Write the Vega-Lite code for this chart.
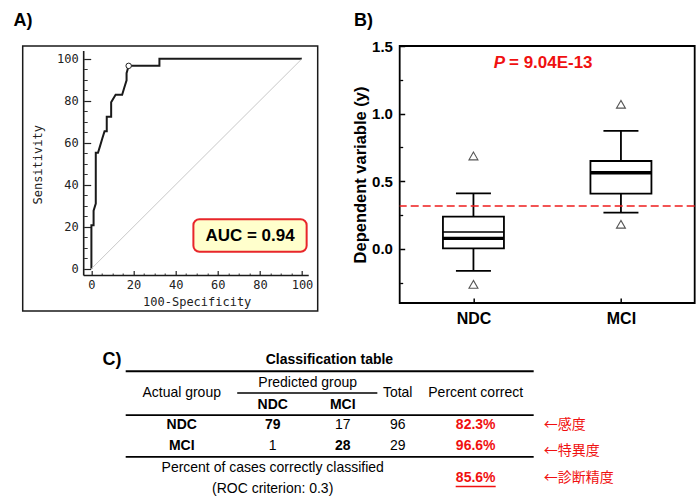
{
  "$schema": "https://vega.github.io/schema/vega-lite/v6.json",
  "background": "white",
  "padding": {"left": 12.7, "top": 11, "right": 0, "bottom": 0},
  "config": {
    "font": "Liberation Sans",
    "view": {"stroke": null},
    "axis": {"grid": false, "labelFont": "Liberation Sans", "titleFont": "Liberation Sans", "labelColor": "#000", "titleColor": "#000", "tickColor": "#222"},
    "text": {"font": "Liberation Sans"}
  },
  "datasets": {
    "roc": [
      {"i": 0, "fpr": 0, "sens": 0},
      {"i": 1, "fpr": 0, "sens": 20.7},
      {"i": 2, "fpr": 1.04, "sens": 20.7},
      {"i": 3, "fpr": 1.04, "sens": 27.6},
      {"i": 4, "fpr": 2.08, "sens": 31.0},
      {"i": 5, "fpr": 2.08, "sens": 55.2},
      {"i": 6, "fpr": 3.13, "sens": 55.2},
      {"i": 7, "fpr": 4.17, "sens": 58.6},
      {"i": 8, "fpr": 5.21, "sens": 62.1},
      {"i": 9, "fpr": 6.25, "sens": 65.5},
      {"i": 10, "fpr": 7.29, "sens": 65.5},
      {"i": 11, "fpr": 7.29, "sens": 72.4},
      {"i": 12, "fpr": 9.38, "sens": 72.4},
      {"i": 13, "fpr": 9.38, "sens": 79.3},
      {"i": 14, "fpr": 11.5, "sens": 82.8},
      {"i": 15, "fpr": 14.6, "sens": 82.8},
      {"i": 16, "fpr": 15.6, "sens": 86.2},
      {"i": 17, "fpr": 16.7, "sens": 89.7},
      {"i": 18, "fpr": 16.7, "sens": 93.1},
      {"i": 19, "fpr": 17.7, "sens": 96.6},
      {"i": 20, "fpr": 32.3, "sens": 96.6},
      {"i": 21, "fpr": 32.3, "sens": 100},
      {"i": 22, "fpr": 100, "sens": 100}
    ],
    "cutoff": [{"fpr": 17.7, "sens": 96.6}],
    "box": [
      {"group": "NDC", "lower": -0.163, "q1": 0.004, "median": 0.078, "mean": 0.125, "q3": 0.238, "upper": 0.411},
      {"group": "MCI", "lower": 0.268, "q1": 0.408, "median": 0.563, "mean": 0.563, "q3": 0.65, "upper": 0.872}
    ],
    "outliers": [
      {"group": "NDC", "value": 0.687},
      {"group": "NDC", "value": -0.262},
      {"group": "MCI", "value": 1.069},
      {"group": "MCI", "value": 0.182}
    ],
    "cells": [
      {"r": 0, "c": -2, "text": "C)", "role": "panel"},
      {"r": 0, "c": 1.81, "text": "Classification table", "role": "title"},
      {"r": 1, "c": 1.5, "text": "Predicted group", "role": "header"},
      {"r": 1.5, "c": 0, "text": "Actual group", "role": "header"},
      {"r": 1.5, "c": 3, "text": "Total", "role": "header"},
      {"r": 1.5, "c": 4, "text": "Percent correct", "role": "header"},
      {"r": 2, "c": 1, "text": "NDC", "role": "subheader"},
      {"r": 2, "c": 2, "text": "MCI", "role": "subheader"},
      {"r": 3, "c": 0, "text": "NDC", "role": "group"},
      {"r": 3, "c": 1, "text": "79", "role": "correct"},
      {"r": 3, "c": 2, "text": "17", "role": "count"},
      {"r": 3, "c": 3, "text": "96", "role": "count"},
      {"r": 3, "c": 4, "text": "82.3%", "role": "percent"},
      {"r": 4, "c": 0, "text": "MCI", "role": "group"},
      {"r": 4, "c": 1, "text": "1", "role": "count"},
      {"r": 4, "c": 2, "text": "28", "role": "correct"},
      {"r": 4, "c": 3, "text": "29", "role": "count"},
      {"r": 4, "c": 4, "text": "96.6%", "role": "percent"},
      {"r": 5, "c": 1, "text": "Percent of cases correctly classified", "role": "caption"},
      {"r": 6, "c": 1, "text": "(ROC criterion: 0.3)", "role": "caption"},
      {"r": 5.5, "c": 4, "text": "85.6%", "role": "overall"},
      {"r": 3, "c": 6, "text": "←感度", "role": "note"},
      {"r": 4.25, "c": 6, "text": "←特異度", "role": "note"},
      {"r": 5.5, "c": 6, "text": "←診断精度", "role": "note"}
    ],
    "lines": [
      {"r": 0.5, "c": -1, "c2": 5, "kind": "top"},
      {"r": 1.5, "c": 0.61, "c2": 2.63, "kind": "span"},
      {"r": 2.5, "c": -1, "c2": 5, "kind": "mid"},
      {"r": 4.5, "c": -1, "c2": 5, "kind": "mid"}
    ]
  },
  "columns": 2,
  "bounds": "flush",
  "spacing": {"row": 28, "column": 82},
  "concat": [
    {
      "width": 295,
      "height": 265,
      "view": {"stroke": "#1a1a1a", "strokeWidth": 1.5},
      "resolve": {"axis": {"x": "independent", "y": "independent"}},
      "layer": [
        {
          "data": {"name": "roc"},
          "mark": {"type": "line", "color": "#1a1a1a", "strokeWidth": 2},
          "encoding": {
            "x": {"field": "fpr", "type": "quantitative", "scale": {"domain": [-32.62, 107.45], "nice": false, "zero": false},
              "axis": {"orient": "bottom", "offset": -35.5, "values": [0, 20, 40, 60, 80, 100], "ticks": false, "domain": false,
                "labelFont": "DejaVu Sans Mono", "labelFontSize": 12, "labelColor": "#222", "labelPadding": 4.4, "labelFlush": false,
                "title": "100-Specificity", "titleFont": "DejaVu Sans Mono", "titleFontSize": 12, "titleFontWeight": "normal", "titleColor": "#222", "titlePadding": 6, "titleX": 174}},
            "y": {"field": "sens", "type": "quantitative", "scale": {"domain": [-20.14, 106.05], "nice": false, "zero": false},
              "axis": {"orient": "left", "offset": -61, "values": [0, 20, 40, 60, 80, 100], "ticks": false, "domain": false,
                "labelFont": "DejaVu Sans Mono", "labelFontSize": 12, "labelColor": "#222", "labelPadding": 5.5,
                "title": "Sensitivity", "titleFont": "DejaVu Sans Mono", "titleFontSize": 12, "titleFontWeight": "normal", "titleColor": "#222", "titlePadding": 12, "titleY": 118.3}},
            "order": {"field": "i", "type": "quantitative"}
          }
        },
        {
          "data": {"values": [{}]},
          "mark": {"type": "rule", "color": "#c8c8c8", "strokeWidth": 1},
          "encoding": {
            "x": {"datum": 0, "type": "quantitative", "scale": {"domain": [-32.62, 107.45], "nice": false, "zero": false},
              "axis": {"orient": "bottom", "offset": -35.5, "values": [5, 10, 15, 25, 30, 35, 45, 50, 55, 65, 70, 75, 85, 90, 95], "labels": false, "domain": false, "ticks": true, "tickSize": -2.5, "tickColor": "#333", "tickWidth": 1, "title": null}},
            "x2": {"datum": 100},
            "y": {"datum": 0, "type": "quantitative", "scale": {"domain": [-20.14, 106.05], "nice": false, "zero": false},
              "axis": {"orient": "left", "offset": -61, "values": [5, 10, 15, 25, 30, 35, 45, 50, 55, 65, 70, 75, 85, 90, 95], "labels": false, "domain": false, "ticks": true, "tickSize": -3.5, "tickColor": "#333", "tickWidth": 1, "title": null}},
            "y2": {"datum": 100}
          }
        },
        {
          "data": {"values": [{}]},
          "mark": {"type": "rule", "color": "#1a1a1a", "strokeWidth": 1.6},
          "encoding": {
            "x": {"datum": -3.66, "type": "quantitative", "scale": {"domain": [-32.62, 107.45], "nice": false, "zero": false},
              "axis": {"orient": "bottom", "offset": -35.5, "values": [0, 20, 40, 60, 80, 100], "labels": false, "domain": false, "ticks": true, "tickSize": -5, "tickColor": "#222", "tickWidth": 1.2, "title": null}},
            "x2": {"datum": 103.2},
            "y": {"datum": -3.24, "type": "quantitative", "scale": {"domain": [-20.14, 106.05], "nice": false, "zero": false}, "axis": null}
          }
        },
        {
          "data": {"values": [{}]},
          "mark": {"type": "rule", "color": "#1a1a1a", "strokeWidth": 1.6},
          "encoding": {
            "x": {"datum": -3.66, "type": "quantitative", "scale": {"domain": [-32.62, 107.45], "nice": false, "zero": false}, "axis": null},
            "y": {"datum": -3.24, "type": "quantitative", "scale": {"domain": [-20.14, 106.05], "nice": false, "zero": false},
              "axis": {"orient": "left", "offset": -61, "values": [0, 20, 40, 60, 80, 100], "labels": false, "domain": false, "ticks": true, "tickSize": -7, "tickColor": "#222", "tickWidth": 1.2, "title": null}},
            "y2": {"datum": 103.67}
          }
        },
        {
          "data": {"name": "cutoff"},
          "mark": {"type": "point", "filled": true, "fill": "white", "stroke": "#222", "strokeWidth": 1, "size": 30, "opacity": 1},
          "encoding": {
            "x": {"field": "fpr", "type": "quantitative", "scale": {"domain": [-32.62, 107.45], "nice": false, "zero": false}, "axis": null},
            "y": {"field": "sens", "type": "quantitative", "scale": {"domain": [-20.14, 106.05], "nice": false, "zero": false}, "axis": null}
          }
        },
        {
          "data": {"values": [{}]},
          "mark": {"type": "rect", "fill": "#ffffcc", "stroke": "#e8262a", "strokeWidth": 2, "cornerRadius": 6},
          "encoding": {
            "x": {"datum": 48.43, "type": "quantitative", "scale": {"domain": [-32.62, 107.45], "nice": false, "zero": false}, "axis": null},
            "x2": {"datum": 102.2},
            "y": {"datum": 8.1, "type": "quantitative", "scale": {"domain": [-20.14, 106.05], "nice": false, "zero": false}, "axis": null},
            "y2": {"datum": 23.52}
          }
        },
        {
          "data": {"values": [{}]},
          "mark": {"type": "text", "text": "AUC = 0.94", "font": "Liberation Sans", "fontSize": 17, "fontWeight": "bold", "color": "#000", "align": "center", "baseline": "middle"},
          "encoding": {
            "x": {"datum": 75.3, "type": "quantitative", "scale": {"domain": [-32.62, 107.45], "nice": false, "zero": false}, "axis": null},
            "y": {"datum": 15.8, "type": "quantitative", "scale": {"domain": [-20.14, 106.05], "nice": false, "zero": false}, "axis": null}
          }
        },
        {
          "data": {"values": [{}]},
          "mark": {"type": "text", "text": "A)", "font": "Liberation Sans", "fontSize": 18, "fontWeight": "bold", "color": "#000", "align": "left", "baseline": "alphabetic"},
          "encoding": {
            "x": {"datum": -37.0, "type": "quantitative", "scale": {"domain": [-32.62, 107.45], "nice": false, "zero": false}, "axis": null},
            "y": {"datum": 115.57, "type": "quantitative", "scale": {"domain": [-20.14, 106.05], "nice": false, "zero": false}, "axis": null}
          }
        }
      ]
    },
    {
      "width": 295,
      "height": 257,
      "view": {"stroke": "#000", "strokeWidth": 1.8},
      "resolve": {"scale": {"x": "independent"}, "axis": {"x": "independent", "y": "independent"}},
      "layer": [
        {
          "data": {"name": "box"},
          "resolve": {"axis": {"x": "independent", "y": "independent"}},
          "layer": [
            {
              "mark": {"type": "bar", "width": 61, "fill": "white", "stroke": "#000", "strokeWidth": 1.8},
              "encoding": {
                "x": {"field": "group", "type": "nominal", "scale": {"type": "point", "domain": ["NDC", "MCI"], "padding": 0.5},
                  "axis": {"orient": "bottom", "ticks": false, "domain": false, "labelAngle": 0, "labelFontSize": 16, "labelFontWeight": "bold", "labelPadding": 8, "title": null}},
                "y": {"field": "q1", "type": "quantitative", "scale": {"domain": [-0.4, 1.5], "nice": false, "zero": false},
                  "axis": {"orient": "left", "values": [0, 0.5, 1, 1.5], "format": ".1f", "ticks": false, "domain": false, "labelFontSize": 15, "labelFontWeight": "bold", "labelPadding": 7.3,
                    "title": "Dependent variable (y)", "titleFontSize": 16.5, "titleFontWeight": "bold", "titlePadding": 3}},
                "y2": {"field": "q3"}
              }
            },
            {
              "mark": {"type": "rule", "color": "#000", "strokeWidth": 1.8},
              "encoding": {
                "x": {"field": "group", "type": "nominal", "scale": {"type": "point", "domain": ["NDC", "MCI"], "padding": 0.5}, "axis": null},
                "y": {"field": "lower", "type": "quantitative", "scale": {"domain": [-0.4, 1.5], "nice": false, "zero": false}, "axis": null},
                "y2": {"field": "q1"}
              }
            },
            {
              "mark": {"type": "rule", "color": "#000", "strokeWidth": 1.8},
              "encoding": {
                "x": {"field": "group", "type": "nominal", "scale": {"type": "point", "domain": ["NDC", "MCI"], "padding": 0.5}, "axis": null},
                "y": {"field": "q3", "type": "quantitative", "scale": {"domain": [-0.4, 1.5], "nice": false, "zero": false}, "axis": null},
                "y2": {"field": "upper"}
              }
            },
            {
              "mark": {"type": "tick", "color": "#000", "size": 35, "thickness": 1.8, "opacity": 1},
              "encoding": {
                "x": {"field": "group", "type": "nominal", "scale": {"type": "point", "domain": ["NDC", "MCI"], "padding": 0.5}, "axis": null},
                "y": {"field": "lower", "type": "quantitative", "scale": {"domain": [-0.4, 1.5], "nice": false, "zero": false}, "axis": null}
              }
            },
            {
              "mark": {"type": "tick", "color": "#000", "size": 35, "thickness": 1.8, "opacity": 1},
              "encoding": {
                "x": {"field": "group", "type": "nominal", "scale": {"type": "point", "domain": ["NDC", "MCI"], "padding": 0.5}, "axis": null},
                "y": {"field": "upper", "type": "quantitative", "scale": {"domain": [-0.4, 1.5], "nice": false, "zero": false}, "axis": null}
              }
            },
            {
              "mark": {"type": "tick", "color": "#000", "size": 61, "thickness": 1.6, "opacity": 1},
              "encoding": {
                "x": {"field": "group", "type": "nominal", "scale": {"type": "point", "domain": ["NDC", "MCI"], "padding": 0.5}, "axis": null},
                "y": {"field": "mean", "type": "quantitative", "scale": {"domain": [-0.4, 1.5], "nice": false, "zero": false}, "axis": null}
              }
            },
            {
              "mark": {"type": "tick", "color": "#000", "size": 61, "thickness": 3.4, "opacity": 1},
              "encoding": {
                "x": {"field": "group", "type": "nominal", "scale": {"type": "point", "domain": ["NDC", "MCI"], "padding": 0.5},
                  "axis": {"orient": "bottom", "labels": false, "domain": false, "ticks": true, "tickSize": -5, "tickColor": "#000", "tickWidth": 1.5, "title": null}},
                "y": {"field": "median", "type": "quantitative", "scale": {"domain": [-0.4, 1.5], "nice": false, "zero": false},
                  "axis": {"orient": "left", "values": [0, 0.5, 1, 1.5], "labels": false, "domain": false, "ticks": true, "tickSize": -5, "tickColor": "#000", "tickWidth": 1.5, "title": null}}
              }
            },
            {
              "data": {"name": "outliers"},
              "mark": {"type": "point", "shape": "triangle-up", "filled": false, "stroke": "#555", "strokeWidth": 1.1, "size": 80, "opacity": 1},
              "encoding": {
                "x": {"field": "group", "type": "nominal", "scale": {"type": "point", "domain": ["NDC", "MCI"], "padding": 0.5}, "axis": null},
                "y": {"field": "value", "type": "quantitative", "scale": {"domain": [-0.4, 1.5], "nice": false, "zero": false}, "axis": null}
              }
            },
            {
              "data": {"values": [{}]},
              "mark": {"type": "rule", "color": "#ee1c1c", "strokeWidth": 1.6, "strokeDash": [8, 4]},
              "encoding": {
                "y": {"datum": 0.317, "type": "quantitative", "scale": {"domain": [-0.4, 1.5], "nice": false, "zero": false},
                  "axis": {"orient": "left", "values": [-0.25, 0.25, 0.75, 1.25], "labels": false, "domain": false, "ticks": true, "tickSize": -3, "tickColor": "#000", "tickWidth": 1.3, "title": null}}
              }
            }
          ]
        },
        {
          "data": {"values": [{}]},
          "mark": {"type": "text", "text": "P", "fontSize": 17, "fontWeight": "bold", "fontStyle": "italic", "color": "#f01010", "align": "center", "baseline": "middle"},
          "encoding": {
            "x": {"datum": 0.338, "type": "quantitative", "scale": {"domain": [0, 1], "nice": false, "zero": false}, "axis": null},
            "y": {"datum": 1.372, "type": "quantitative", "scale": {"domain": [-0.4, 1.5], "nice": false, "zero": false}, "axis": null}
          }
        },
        {
          "data": {"values": [{}]},
          "mark": {"type": "text", "text": "= 9.04E-13", "fontSize": 17, "fontWeight": "bold", "color": "#f01010", "align": "left", "baseline": "middle"},
          "encoding": {
            "x": {"datum": 0.3705, "type": "quantitative", "scale": {"domain": [0, 1], "nice": false, "zero": false}, "axis": null},
            "y": {"datum": 1.372, "type": "quantitative", "scale": {"domain": [-0.4, 1.5], "nice": false, "zero": false}, "axis": null}
          }
        },
        {
          "data": {"values": [{}]},
          "mark": {"type": "text", "text": "B)", "fontSize": 18, "fontWeight": "bold", "color": "#000", "align": "left", "baseline": "alphabetic"},
          "encoding": {
            "x": {"datum": -0.1547, "type": "quantitative", "scale": {"domain": [0, 1], "nice": false, "zero": false}, "axis": null},
            "y": {"datum": 1.648, "type": "quantitative", "scale": {"domain": [-0.4, 1.5], "nice": false, "zero": false}, "axis": null}
          }
        }
      ]
    },
    {
      "width": 295,
      "height": 159,
      "encoding": {
        "x": {"field": "c", "type": "quantitative", "scale": {"domain": [-2, -1, 0, 1, 2, 3, 4, 5, 6], "range": [79.7, 103, 159, 250, 320, 375, 453, 511, 521], "nice": false, "zero": false}, "axis": null},
        "y": {"field": "r", "type": "quantitative", "scale": {"domain": [0, 1, 1.5, 2, 3, 4, 5, 6], "range": [21, 43.7, 54, 66, 86.3, 107, 128.7, 150.3], "nice": false, "zero": false}, "axis": null}
      },
      "layer": [
        {
          "data": {"name": "lines"},
          "mark": {"type": "rule", "color": "#000"},
          "encoding": {
            "x2": {"field": "c2"},
            "strokeWidth": {"condition": {"test": "datum.kind === 'top'", "value": 2}, "value": 1.6}
          }
        },
        {
          "data": {"name": "cells"},
          "transform": [{"filter": "datum.role === 'overall'"}],
          "mark": {"type": "tick", "orient": "horizontal", "color": "#f01010", "size": 40, "thickness": 1.4, "yOffset": 8, "opacity": 1}
        },
        {
          "data": {"name": "cells"},
          "transform": [{"filter": "indexof(['title','subheader','group','correct'], datum.role) >= 0"}],
          "mark": {"type": "text", "fontSize": 14, "fontWeight": "bold", "color": "#000", "align": "center", "baseline": "middle"},
          "encoding": {"text": {"field": "text"}}
        },
        {
          "data": {"name": "cells"},
          "transform": [{"filter": "indexof(['header','count','caption'], datum.role) >= 0"}],
          "mark": {"type": "text", "fontSize": 14, "color": "#000", "align": "center", "baseline": "middle"},
          "encoding": {"text": {"field": "text"}}
        },
        {
          "data": {"name": "cells"},
          "transform": [{"filter": "datum.role === 'percent' || datum.role === 'overall'"}],
          "mark": {"type": "text", "fontSize": 14, "fontWeight": "bold", "color": "#f01010", "align": "center", "baseline": "middle"},
          "encoding": {"text": {"field": "text"}}
        },
        {
          "data": {"name": "cells"},
          "transform": [{"filter": "datum.role === 'note'"}],
          "mark": {"type": "text", "font": "Noto Sans CJK JP", "fontSize": 14, "color": "#f01010", "align": "left", "baseline": "middle"},
          "encoding": {"text": {"field": "text"}}
        },
        {
          "data": {"name": "cells"},
          "transform": [{"filter": "datum.role === 'panel'"}],
          "mark": {"type": "text", "fontSize": 18, "fontWeight": "bold", "color": "#000", "align": "left", "baseline": "middle"},
          "encoding": {"text": {"field": "text"}}
        }
      ]
    }
  ]
}
